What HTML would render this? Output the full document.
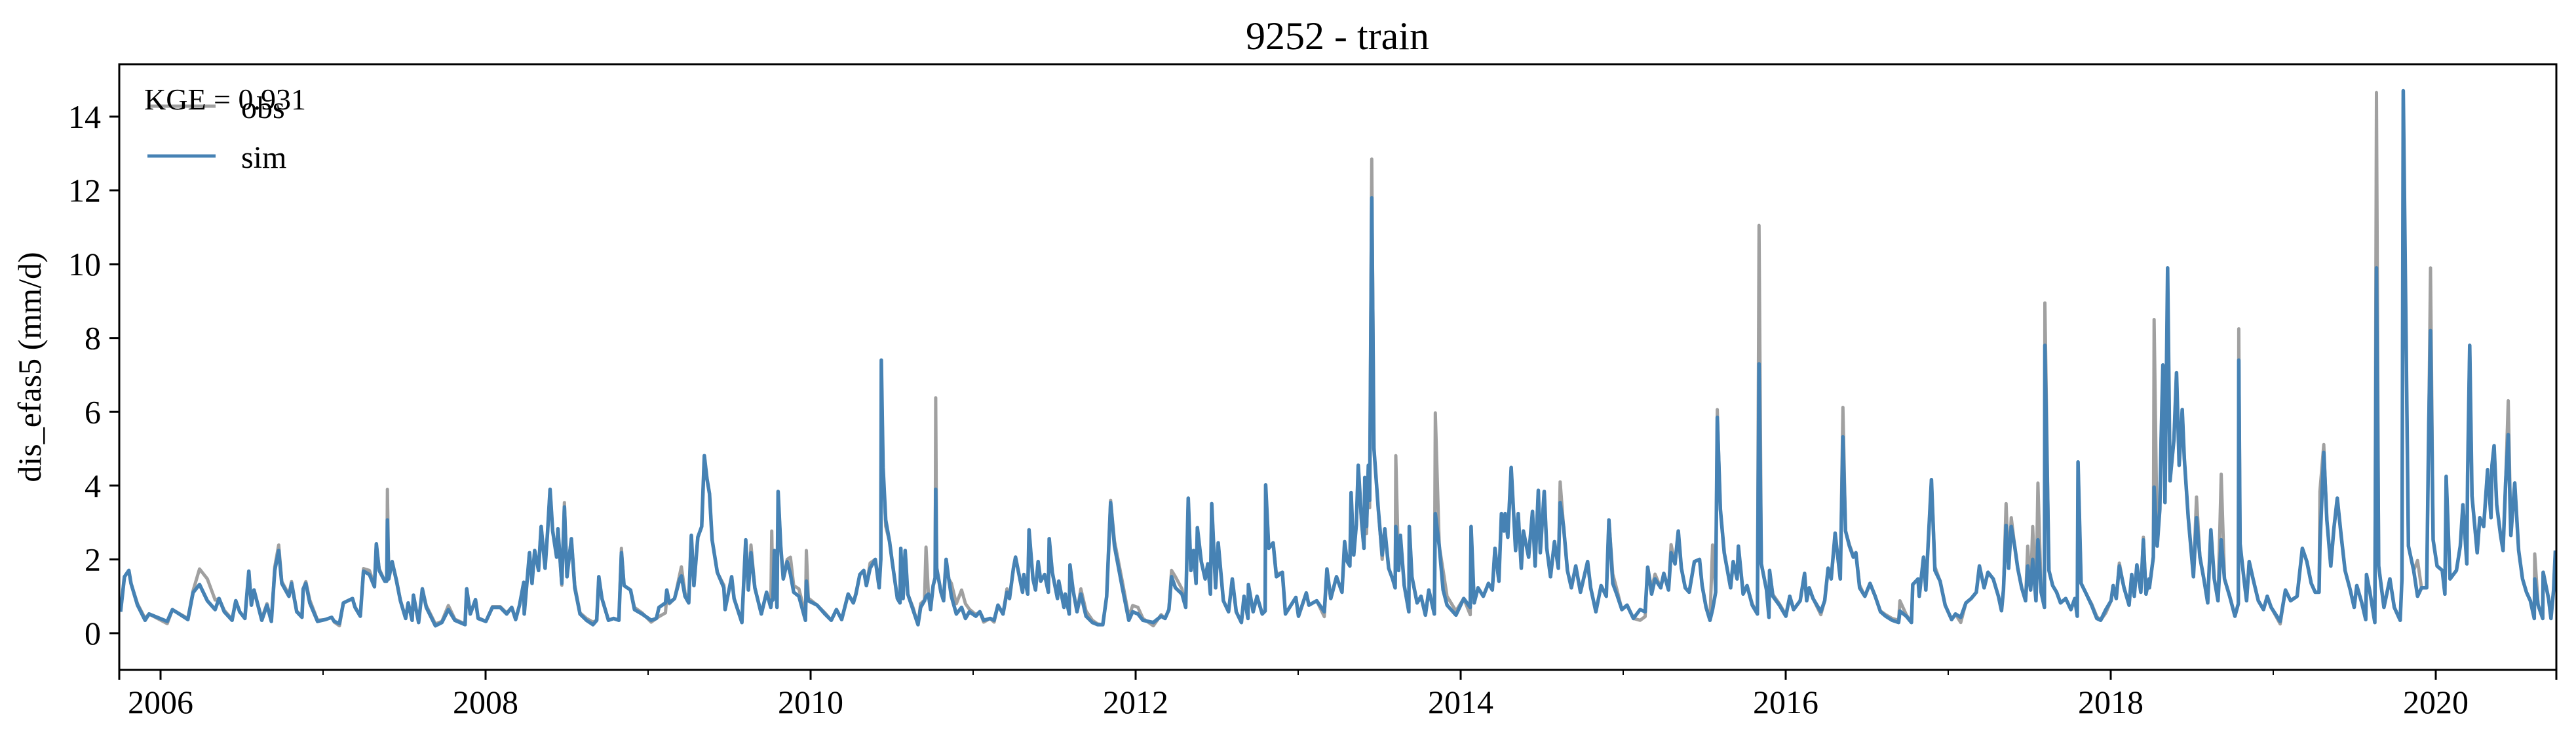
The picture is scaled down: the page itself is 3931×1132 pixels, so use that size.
<!DOCTYPE html>
<html><head><meta charset="utf-8"><style>
html,body{margin:0;padding:0;background:#fff;}
svg{display:block;font-family:"Liberation Serif",serif;}
</style></head><body>
<svg id="chart" width="3931" height="1132" viewBox="0 0 3931 1132" xmlns="http://www.w3.org/2000/svg">
<rect x="0" y="0" width="3931" height="1132" fill="#fff"/>
<text x="2041" y="75" font-size="60" text-anchor="middle">9252 - train</text>
<g id="plot"></g>
<g id="axes"></g>
<text x="0" y="0" transform="translate(62,560) rotate(-90)" font-size="50" text-anchor="middle">dis_efas5 (mm/d)</text>
<g>
<line x1="225" y1="162" x2="329" y2="162" stroke="#a0a0a0" stroke-width="5"/>
<text x="368" y="180" font-size="48">obs</text>
<line x1="225" y1="238" x2="329" y2="238" stroke="#4682b4" stroke-width="5"/>
<text x="368" y="256" font-size="48">sim</text>
<text x="220" y="167" font-size="46">KGE = 0.931</text>
</g>
</svg>
<script>
const dates = [
2005.754,2005.778,2005.805,2005.818,2005.858,2005.905,2005.929,2006.041,2006.073,2006.168,2006.200,2006.240,2006.288,2006.336,2006.360,2006.392,2006.440,2006.463,2006.487,2006.519,2006.543,2006.559,2006.575,2006.623,2006.655,2006.682,2006.703,2006.727,2006.746,2006.790,2006.806,2006.838,2006.870,2006.878,2006.894,2006.918,2006.966,2007.014,2007.053,2007.069,2007.101,2007.125,2007.181,2007.197,2007.229,2007.249,2007.285,2007.316,2007.328,2007.345,2007.380,2007.392,2007.396,2007.404,2007.425,2007.452,2007.476,2007.508,2007.524,2007.548,2007.556,2007.588,2007.611,2007.635,2007.691,2007.731,2007.771,2007.811,2007.874,2007.884,2007.906,2007.938,2007.954,2008.002,2008.042,2008.090,2008.130,2008.161,2008.185,2008.209,2008.235,
2008.238,2008.270,2008.286,2008.302,2008.326,2008.342,2008.366,2008.381,2008.397,2008.413,2008.437,2008.445,2008.469,2008.485,2008.501,2008.528,2008.549,2008.581,2008.621,2008.661,2008.684,2008.697,2008.716,2008.756,2008.788,2008.820,2008.836,2008.852,2008.892,2008.916,2008.963,2009.019,2009.051,2009.067,2009.107,2009.115,2009.131,2009.163,2009.195,2009.205,2009.227,2009.250,2009.266,2009.282,2009.306,2009.330,2009.346,2009.362,2009.378,2009.394,2009.426,2009.466,2009.474,2009.514,2009.529,2009.577,2009.601,2009.617,2009.633,2009.657,2009.697,2009.729,2009.755,2009.761,2009.768,2009.777,2009.793,2009.800,2009.816,2009.832,2009.856,2009.876,2009.896,2009.928,2009.968,2009.974,2009.986,2010.040,2010.088,2010.127,2010.159,2010.191,2010.231,2010.263,2010.279,2010.303,2010.327,2010.343,2010.366,2010.398,2010.422,2010.432,2010.435,2010.446,2010.462,2010.486,2010.502,2010.534,2010.550,2010.555,2010.569,2010.582,2010.598,2010.630,2010.661,2010.677,2010.701,2010.710,2010.725,
2010.738,2010.754,2010.766,2010.770,2010.776,2010.802,2010.818,2010.834,2010.850,2010.866,2010.897,2010.929,2010.953,2010.977,2011.017,2011.041,2011.065,2011.105,2011.129,2011.153,2011.184,2011.208,2011.224,2011.248,2011.261,2011.304,2011.312,2011.336,2011.344,2011.368,2011.384,2011.400,2011.416,2011.440,2011.463,2011.468,2011.487,2011.519,2011.527,2011.559,2011.567,2011.591,2011.596,2011.615,2011.639,2011.663,2011.695,2011.734,2011.766,2011.798,2011.822,2011.846,2011.870,2011.918,2011.958,2011.982,2012.014,2012.045,2012.109,2012.157,2012.181,2012.205,2012.221,2012.245,2012.285,2012.308,2012.324,2012.340,2012.356,2012.372,2012.380,2012.404,2012.428,2012.444,2012.460,2012.468,2012.492,2012.508,2012.540,2012.572,2012.595,2012.619,2012.651,2012.667,2012.691,2012.694,2012.723,2012.747,2012.779,2012.797,2012.800,2012.819,2012.846,2012.866,2012.903,2012.922,2012.986,2013.002,2013.050,2013.066,2013.114,2013.161,2013.177,2013.201,2013.236,
2013.270,2013.286,2013.302,2013.318,2013.326,2013.342,2013.358,2013.370,2013.389,2013.405,2013.410,2013.421,2013.432,2013.440,2013.453,2013.466,2013.493,2013.517,2013.533,2013.557,2013.581,2013.597,2013.601,2013.618,2013.629,2013.653,2013.681,2013.684,2013.700,2013.732,2013.756,2013.783,2013.804,2013.838,2013.844,2013.868,2013.892,2013.916,2013.971,2014.019,2014.059,2014.064,2014.083,2014.107,2014.139,2014.171,2014.195,2014.211,2014.235,2014.251,2014.266,2014.274,2014.290,2014.311,2014.338,2014.354,2014.373,2014.386,2014.418,2014.442,2014.458,2014.478,2014.490,2014.514,2014.530,2014.553,2014.577,2014.601,2014.612,2014.633,2014.657,2014.681,2014.708,2014.737,2014.781,2014.800,2014.832,2014.864,2014.896,2014.912,2014.936,2014.960,2014.992,2015.024,2015.063,2015.104,2015.135,2015.151,2015.175,2015.196,2015.231,2015.250,2015.279,2015.295,2015.319,2015.339,2015.358,2015.382,2015.406,2015.438,2015.470,2015.486,2015.510,2015.534,2015.550,2015.569,2015.579,2015.598,2015.622,2015.661,2015.677,2015.701,2015.709,2015.736,
2015.738,2015.762,2015.794,2015.826,2015.836,2015.850,2015.882,2015.897,2015.901,2015.921,2015.961,2016.001,2016.025,2016.049,2016.089,2016.116,2016.129,2016.145,2016.168,2016.216,2016.240,2016.261,2016.280,2016.304,2016.336,2016.352,2016.368,2016.392,2016.416,2016.432,2016.455,2016.487,2016.519,2016.551,2016.583,2016.615,2016.655,2016.695,2016.703,2016.742,2016.774,2016.782,2016.814,2016.822,2016.848,2016.862,2016.897,2016.918,2016.950,2016.981,2017.021,2017.045,2017.077,2017.109,2017.141,2017.173,2017.192,2017.221,2017.245,2017.277,2017.309,2017.328,2017.340,2017.356,2017.372,2017.388,2017.409,2017.428,2017.452,2017.476,2017.489,2017.507,2017.520,2017.540,2017.552,2017.572,2017.592,2017.595,2017.620,2017.643,2017.667,2017.691,2017.723,2017.755,2017.779,2017.794,2017.799,2017.818,2017.850,2017.882,2017.914,2017.938,2017.970,2018.002,2018.015,2018.034,2018.053,2018.082,2018.113,2018.129,2018.145,2018.161,2018.185,2018.201,2018.217,2018.236,
2018.238,2018.262,2018.267,2018.286,2018.302,2018.310,2018.321,2018.334,2018.350,2018.365,2018.389,2018.405,2018.421,2018.440,2018.453,2018.477,2018.509,2018.528,2018.549,2018.573,2018.597,2018.616,2018.637,2018.660,2018.680,2018.700,2018.732,2018.764,2018.785,2018.788,2018.796,2018.820,2018.836,2018.852,2018.876,2018.908,2018.940,2018.963,2018.987,2019.043,2019.075,2019.107,2019.147,2019.179,2019.207,2019.234,2019.258,2019.282,2019.287,2019.311,2019.330,2019.354,2019.373,2019.394,2019.418,2019.442,2019.474,2019.498,2019.514,2019.545,2019.569,2019.574,2019.593,2019.625,2019.635,2019.649,2019.681,2019.718,2019.745,2019.781,2019.792,2019.800,2019.832,2019.864,2019.888,2019.912,2019.944,2019.957,2019.968,2019.984,2020.008,2020.040,2020.056,2020.064,2020.088,2020.127,2020.151,2020.167,2020.191,2020.196,2020.209,2020.223,2020.255,2020.271,2020.295,2020.319,2020.340,2020.346,2020.359,2020.375,2020.399,2020.414,2020.430,2020.446,2020.462,2020.486,2020.510,2020.534,2020.558,2020.582,2020.606,2020.609,2020.630,2020.658,2020.661,2020.694,2020.709,2020.725,2020.736
];
const simValues = [
0.58,1.53,1.70,1.35,0.76,0.35,0.52,0.32,0.64,0.37,1.10,1.32,0.88,0.64,0.94,0.58,0.35,0.88,0.58,0.40,1.68,0.76,1.17,0.35,0.76,0.32,1.70,2.24,1.35,1.00,1.35,0.58,0.43,1.20,1.35,0.82,0.32,0.37,0.43,0.32,0.26,0.82,0.94,0.70,0.46,1.68,1.59,1.26,2.42,1.70,1.41,1.41,3.07,1.47,1.94,1.41,0.88,0.40,0.82,0.35,1.03,0.29,1.20,0.70,0.20,0.29,0.64,0.35,0.23,1.20,0.52,0.91,0.40,0.32,0.70,0.70,0.52,0.70,0.37,0.76,1.38,
0.52,2.18,1.35,2.24,1.70,2.89,1.76,2.71,3.90,2.77,2.06,2.83,1.35,3.42,1.53,2.56,1.23,0.52,0.35,0.23,0.35,1.53,0.94,0.35,0.40,0.35,2.18,1.29,1.17,0.64,0.52,0.35,0.40,0.70,0.82,1.17,0.82,0.94,1.47,1.55,1.00,0.82,2.65,1.29,2.60,2.89,4.81,4.19,3.78,2.53,1.65,1.23,0.64,1.53,0.94,0.29,2.53,1.17,2.18,1.23,0.52,1.11,0.70,0.90,0.90,2.24,0.70,3.84,2.36,1.47,1.94,1.60,1.11,1.00,0.35,1.41,0.88,0.76,0.52,0.35,0.64,0.37,1.06,0.82,1.06,1.59,1.70,1.29,1.76,2.00,1.23,2.00,7.40,4.49,3.07,2.48,1.94,0.94,0.82,2.30,0.94,2.24,1.06,0.64,0.23,0.70,0.88,1.00,1.06,
0.64,1.29,1.50,3.90,1.76,1.11,0.88,2.00,1.47,1.00,0.52,0.70,0.40,0.58,0.46,0.58,0.35,0.40,0.35,0.76,0.52,1.11,0.94,1.76,2.06,1.11,1.59,1.06,2.80,1.47,1.17,1.94,1.41,1.59,1.11,2.56,1.65,0.94,1.41,0.70,1.06,0.52,1.85,1.17,0.58,1.06,0.46,0.29,0.23,0.23,1.00,3.54,2.36,1.23,0.35,0.58,0.52,0.35,0.29,0.46,0.40,0.64,1.53,1.23,1.06,0.70,3.66,1.70,2.24,1.35,2.86,1.94,1.47,1.88,1.06,3.51,1.23,2.45,0.88,0.58,1.47,0.58,0.29,1.00,0.40,1.32,0.58,1.00,0.52,0.60,4.02,2.30,2.45,1.53,1.65,0.52,0.97,0.46,1.09,0.76,0.88,0.58,1.74,0.94,1.53,
1.11,2.48,1.94,1.82,3.81,2.12,2.95,4.55,3.13,2.30,4.22,2.89,4.55,3.60,11.80,5.02,3.36,2.12,2.83,1.76,1.47,1.23,2.89,1.70,2.65,1.29,0.58,2.89,1.53,0.82,1.00,0.49,1.17,0.52,3.24,2.36,1.17,0.76,0.49,0.94,0.70,2.89,0.82,1.23,1.00,1.35,1.17,2.30,1.41,3.24,2.77,3.24,2.60,4.49,2.24,3.24,1.76,2.77,2.06,3.30,1.82,3.87,2.18,3.84,2.30,1.53,2.48,1.76,3.54,2.89,1.70,1.23,1.82,1.11,1.94,1.23,0.58,1.29,1.00,3.07,1.35,1.06,0.64,0.76,0.40,0.64,0.58,1.79,1.06,1.47,1.23,1.62,1.17,2.18,1.88,2.77,1.76,1.23,1.11,1.94,2.00,1.29,0.70,0.35,0.64,1.11,5.85,3.36,2.18,1.23,1.94,1.47,2.36,1.17,
1.06,1.29,0.76,0.52,7.30,1.88,1.17,0.43,1.70,1.00,0.76,0.46,1.00,0.64,0.88,1.62,0.88,1.23,0.94,0.58,0.88,1.76,1.47,2.71,1.47,5.32,2.77,2.36,2.06,2.18,1.23,1.00,1.35,1.00,0.58,0.46,0.35,0.29,0.60,0.46,0.29,1.32,1.47,1.00,2.06,1.17,4.16,1.70,1.41,0.76,0.37,0.52,0.43,0.82,0.94,1.11,1.82,1.23,1.65,1.47,1.00,0.61,1.17,2.92,1.76,2.89,2.36,1.76,1.23,0.88,1.82,1.17,2.00,0.88,2.53,1.11,0.70,7.80,1.70,1.29,1.11,0.82,0.94,0.64,0.94,0.46,4.64,1.35,1.06,0.76,0.40,0.35,0.64,0.88,1.29,0.94,1.82,1.23,0.76,1.59,1.00,1.85,1.11,2.53,1.06,1.47,
1.23,2.06,3.96,2.36,3.36,5.26,7.27,3.54,9.90,4.13,5.26,7.06,4.55,6.06,4.73,3.13,1.53,3.13,2.06,1.47,0.82,2.80,1.47,0.88,2.53,1.47,1.00,0.46,0.80,7.40,2.42,1.47,0.88,1.94,1.47,0.88,0.64,1.00,0.70,0.32,1.17,0.88,1.00,2.30,1.94,1.35,1.11,1.11,2.36,4.90,3.07,1.82,2.83,3.66,2.65,1.70,1.17,0.70,1.29,0.82,0.37,1.59,1.17,0.29,9.90,1.82,0.70,1.47,0.70,0.35,1.47,14.70,2.36,1.70,1.00,1.23,1.23,5.62,8.20,2.53,1.82,1.70,1.06,4.25,1.47,1.70,2.36,3.48,1.88,4.25,7.80,3.72,2.18,3.13,2.89,4.43,3.13,4.55,5.08,3.48,2.65,2.24,4.07,5.38,2.65,4.07,2.24,1.47,1.11,0.88,0.40,1.47,0.76,0.40,1.65,0.94,0.40,1.17,2.24
];
const obsValues = [
0.58,1.53,1.70,1.35,0.80,0.40,0.52,0.26,0.64,0.40,1.15,1.74,1.47,0.90,0.94,0.62,0.38,0.88,0.58,0.40,1.68,0.76,1.17,0.40,0.80,0.32,1.80,2.39,1.40,1.05,1.40,0.60,0.45,1.20,1.40,0.90,0.35,0.37,0.43,0.30,0.20,0.82,0.94,0.72,0.46,1.75,1.70,1.30,2.42,1.75,1.41,1.41,3.90,1.50,1.94,1.45,0.90,0.42,0.82,0.35,1.03,0.30,1.20,0.75,0.25,0.32,0.75,0.38,0.25,1.20,0.52,0.91,0.42,0.32,0.72,0.72,0.55,0.70,0.40,0.76,1.38,
0.52,2.18,1.40,2.24,1.75,2.89,1.80,2.71,3.90,2.77,2.10,2.83,1.30,3.54,1.60,2.56,1.30,0.55,0.40,0.30,0.35,1.53,0.94,0.35,0.40,0.35,2.30,1.29,1.17,0.70,0.55,0.30,0.40,0.45,0.55,1.00,0.80,0.94,1.60,1.80,1.10,0.82,2.65,1.29,2.60,2.89,4.81,4.19,3.78,2.53,1.65,1.30,0.64,1.53,0.94,0.29,2.53,1.17,2.39,1.23,0.52,1.11,0.70,2.77,0.90,2.24,0.70,3.84,2.36,1.47,2.00,2.06,1.29,1.20,0.50,2.24,0.95,0.76,0.55,0.35,0.64,0.37,1.06,0.82,1.10,1.59,1.70,1.29,1.90,2.00,1.23,2.00,7.30,4.49,2.90,2.48,1.94,0.94,0.82,2.30,0.94,2.24,1.06,0.70,0.23,0.80,0.90,2.33,1.06,
0.64,1.29,1.50,6.38,1.76,1.11,0.88,2.00,1.47,1.35,0.80,1.17,0.80,0.65,0.50,0.58,0.30,0.40,0.30,0.76,0.52,1.20,0.94,1.76,2.06,1.11,1.59,1.06,2.80,1.47,1.17,1.94,1.41,1.59,1.11,2.56,1.65,0.94,1.41,0.70,1.06,0.52,1.85,1.17,0.58,1.20,0.60,0.35,0.25,0.23,1.00,3.60,2.50,1.40,0.45,0.75,0.70,0.40,0.20,0.50,0.40,0.64,1.70,1.53,1.20,0.70,3.66,1.70,2.24,1.35,2.86,1.94,1.47,1.88,1.06,3.51,1.23,2.45,0.88,0.58,1.47,0.58,0.29,1.00,0.40,1.32,0.58,1.00,0.52,0.60,4.02,2.30,2.45,1.60,1.65,0.52,0.97,0.46,1.09,0.76,0.88,0.45,1.74,0.94,1.53,
1.11,2.48,1.94,1.82,3.81,2.12,2.95,4.55,3.00,2.30,4.22,2.70,4.55,3.40,12.85,5.02,3.36,2.00,2.83,1.76,1.47,1.23,4.81,1.70,2.65,1.29,0.58,2.89,1.53,0.82,1.00,0.49,1.17,0.52,5.97,2.36,1.70,1.00,0.60,0.94,0.50,2.89,0.82,1.23,1.00,1.35,1.17,2.30,1.41,3.24,2.77,3.24,2.60,4.49,2.24,3.24,1.76,2.77,2.06,3.30,1.82,3.87,2.18,3.84,2.30,1.53,2.48,1.76,4.10,2.89,1.70,1.23,1.82,1.11,1.94,1.23,0.58,1.29,1.00,3.07,1.60,1.20,0.64,0.76,0.40,0.35,0.45,1.79,1.20,1.60,1.23,1.62,1.17,2.40,1.88,2.77,1.76,1.23,1.11,1.94,2.00,1.29,0.70,0.35,2.39,1.11,6.06,3.36,2.18,1.23,1.94,1.47,2.36,1.17,
1.06,1.29,0.80,0.52,11.05,1.88,1.20,0.45,1.70,1.05,0.80,0.50,1.00,0.64,0.88,1.62,0.88,1.23,0.94,0.50,0.88,1.76,1.47,2.71,1.47,6.12,2.77,2.40,2.10,2.18,1.30,1.00,1.35,1.00,0.60,0.50,0.40,0.35,0.88,0.50,0.29,1.32,1.47,1.00,2.06,1.17,4.16,1.80,1.41,0.76,0.37,0.52,0.29,0.82,0.94,1.11,1.82,1.23,1.65,1.47,1.00,0.61,1.17,3.51,1.76,3.13,2.36,1.76,1.23,0.88,2.36,1.17,2.89,0.88,4.07,1.11,0.70,8.95,1.70,1.29,1.11,0.82,0.94,0.64,0.94,0.46,4.64,1.35,1.06,0.80,0.45,0.35,0.55,0.88,1.29,0.94,1.90,1.23,0.76,1.59,1.00,1.85,1.11,2.60,1.06,1.47,
1.23,2.06,8.50,2.36,3.36,5.26,7.27,3.54,9.70,4.13,5.26,7.06,4.55,6.06,4.73,3.13,1.53,3.69,2.06,1.47,0.82,2.80,1.47,0.88,4.31,1.47,1.00,0.46,0.80,8.25,2.42,1.47,0.88,1.94,1.47,0.88,0.64,1.00,0.70,0.25,1.17,0.88,1.00,2.30,1.94,1.35,1.11,1.11,3.84,5.11,3.07,1.82,2.83,3.66,2.65,1.70,1.17,0.70,1.29,0.82,0.37,1.59,1.17,0.29,14.65,1.82,0.70,1.47,0.70,0.35,1.47,14.50,2.36,1.70,1.97,1.23,1.23,5.62,9.90,2.53,1.82,1.70,1.06,4.25,1.47,1.70,2.36,3.48,1.88,4.25,7.80,3.72,2.18,3.13,2.89,4.43,3.13,4.55,5.08,3.48,2.65,2.24,4.07,6.30,2.65,4.07,2.24,1.47,1.11,0.88,0.40,2.15,0.76,0.40,1.65,0.94,0.40,1.17,2.24
];
const yTicks = [0, 2, 4, 6, 8, 10, 12, 14];
const xMajorYears = [2006, 2008, 2010, 2012, 2014, 2016, 2018, 2020];
const xMinorYears = [2007, 2009, 2011, 2013, 2015, 2017, 2019];

const NS = "http://www.w3.org/2000/svg";
const L = 182, R = 3901, T = 98, B = 1022;
const xMin = 2005.746, xMax = 2020.742, yMin = -0.995, yMax = 15.42;
function xs(v){ return L + (v - xMin) / (xMax - xMin) * (R - L); }
function ys(v){ return B - (v - yMin) / (yMax - yMin) * (B - T); }
function mk(tag, attrs, parent){
  const e = document.createElementNS(NS, tag);
  for (const k in attrs) e.setAttribute(k, attrs[k]);
  parent.appendChild(e);
  return e;
}
const plot = document.getElementById('plot');
const axes = document.getElementById('axes');

function linePath(vals){
  const n = Math.min(dates.length, vals.length);
  let d = '';
  for (let i = 0; i < n; i++) d += (i ? 'L' : 'M') + xs(dates[i]).toFixed(1) + ',' + ys(vals[i]).toFixed(1);
  return d;
}
const obsLine = mk('path', {d: linePath(obsValues), fill: 'none', stroke: '#a0a0a0', 'stroke-width': 5, 'stroke-linejoin': 'round'}, plot);


const simLine = mk('path', {d: linePath(simValues), fill: 'none', stroke: '#4682b4', 'stroke-width': 5.5, 'stroke-linejoin': 'round'}, plot);



const frame = mk('rect', {x: L, y: T, width: R - L, height: B - T, fill: 'none', stroke: '#000', 'stroke-width': 3}, axes);



yTicks.forEach(function(t){
  const y = ys(t);
  const tk = mk('line', {x1: L - 15, x2: L, y1: y, y2: y, stroke: '#000', 'stroke-width': 3}, axes);
  
  
  const lb = mk('text', {x: L - 28, y: y + 17, 'font-size': 50, 'text-anchor': 'end'}, axes);
  lb.textContent = String(t);
  
  
});
xMajorYears.forEach(function(t){
  const x = xs(t);
  const tk = mk('line', {x1: x, x2: x, y1: B, y2: B + 15, stroke: '#000', 'stroke-width': 3}, axes);
  
  
  const lb = mk('text', {x: x, y: B + 66, 'font-size': 50, 'text-anchor': 'middle'}, axes);
  lb.textContent = String(t);
  
  
});
xMinorYears.forEach(function(t){
  const x = xs(t);
  const tk = mk('line', {x1: x, x2: x, y1: B, y2: B + 8, stroke: '#000', 'stroke-width': 2}, axes);
  
  
});
[L, R].forEach(function(x){
  const tk = mk('line', {x1: x, x2: x, y1: B, y2: B + 15, stroke: '#000', 'stroke-width': 3}, axes);
  
  
});
</script>
</body></html>
